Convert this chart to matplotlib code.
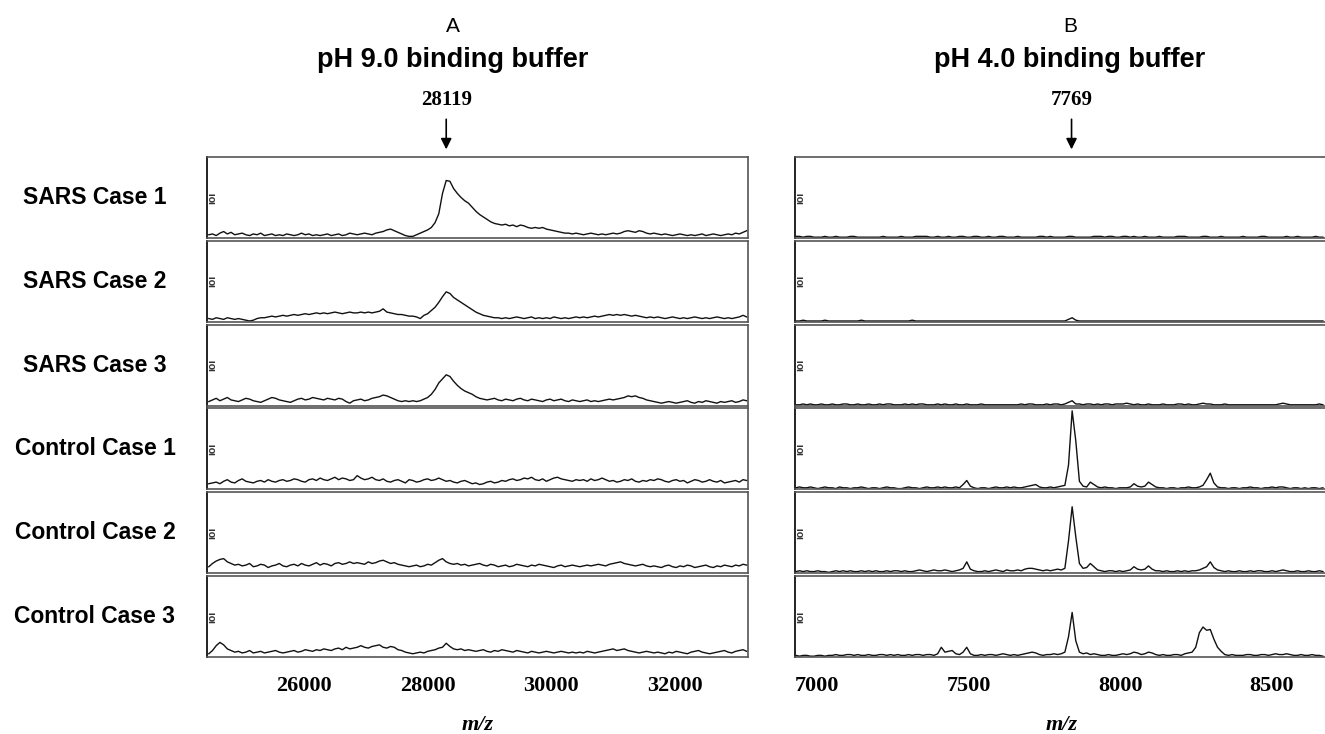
import numpy as np
import matplotlib
matplotlib.use("Agg")
import matplotlib.pyplot as plt

# row labels
cases = ["SARS Case 1", "SARS Case 2", "SARS Case 3",
         "Control Case 1", "Control Case 2", "Control Case 3"]

# panel A: pH 9.0, m/z sampled from 24460 every 60
a_start, a_step = 24460, 60
a_ticks = [26000, 28000, 30000, 32000]
a_peak = 28300
a_peak_label = "28119"

a_sars1 = [4,5,3,6,8,5,7,4,5,6,4,3,5,4,6,3,4,5,3,4,
           3,5,4,3,4,6,4,5,3,4,3,4,5,3,4,5,3,4,6,5,
           4,5,6,5,4,6,7,8,10,11,9,7,5,3,2,2,4,6,8,10,
           13,19,30,55,71,70,61,55,50,46,43,38,33,29,26,23,20,18,17,16,
           17,15,16,14,16,15,13,12,13,12,13,11,10,9,8,7,6,6,5,6,
           5,4,5,6,5,4,5,4,5,6,5,6,8,9,8,7,9,8,6,5,
           6,5,4,5,4,3,4,5,4,3,4,3,4,5,3,4,5,4,3,4,
           5,4,6,5,7,9]
a_sars2 = [4,3,5,4,3,5,4,3,4,3,2,1,2,4,5,5,6,7,6,7,
           8,7,8,9,8,9,10,9,10,11,10,11,10,11,12,11,10,11,12,11,
           11,12,11,12,11,12,13,16,12,11,10,9,9,8,7,7,6,4,8,10,
           14,18,24,31,37,35,30,27,24,21,18,15,12,10,8,7,6,5,5,4,
           5,4,5,6,5,4,5,6,4,5,4,5,4,6,5,4,5,4,5,6,
           5,6,5,6,7,6,7,8,9,8,9,8,9,8,7,8,7,6,5,6,
           5,6,5,4,5,6,5,4,5,4,5,6,5,4,5,4,5,6,5,4,
           5,4,5,6,8,6]
a_sars3 = [5,7,9,6,8,10,7,6,5,7,9,8,6,5,4,6,8,10,9,7,
           6,5,4,6,8,9,7,8,10,9,8,7,9,8,7,9,8,5,3,6,
           7,8,6,7,9,10,11,13,12,10,8,6,5,6,5,6,5,6,8,10,
           14,20,28,33,38,36,30,25,21,18,16,14,11,9,8,7,8,9,7,6,
           8,7,6,8,9,7,6,8,7,6,5,7,8,6,7,8,6,5,7,6,
           5,6,7,5,6,5,6,7,8,7,8,9,10,12,11,12,10,9,7,6,
           5,4,3,4,5,4,3,4,5,6,4,3,5,4,6,5,4,3,5,4,
           5,6,4,5,7,6]
a_ctrl1 = [7,8,9,7,10,12,9,8,11,13,10,9,8,10,11,9,12,10,9,11,
           12,10,11,13,12,10,9,12,13,11,14,12,11,13,15,12,14,13,11,12,
           17,14,12,13,15,12,11,13,10,9,11,12,10,8,12,11,9,10,12,13,
           11,12,14,12,10,11,9,8,10,11,9,7,8,6,7,9,10,8,9,11,
           10,12,13,11,12,14,13,15,12,11,13,10,12,14,15,13,12,11,10,12,
           11,12,10,13,11,12,14,12,10,11,9,10,12,11,13,10,9,11,10,12,
           11,13,12,10,9,11,12,10,11,8,10,12,11,9,10,12,10,9,11,8,
           9,10,11,9,12,11]
a_ctrl2 = [8,12,15,17,18,14,12,10,11,9,10,12,8,9,11,10,7,9,10,12,
           9,8,10,11,9,12,10,9,11,13,10,12,11,9,12,13,11,12,14,12,
           13,12,11,14,12,13,15,16,14,12,13,11,10,9,8,9,10,8,9,11,
           10,13,16,18,14,12,11,12,10,11,9,10,11,12,10,9,11,10,8,9,
           10,8,9,11,10,9,8,10,9,11,10,9,8,7,9,10,8,9,10,9,
           8,9,10,9,10,11,10,9,11,12,13,14,12,11,10,9,10,11,9,8,
           9,8,7,9,10,8,7,9,8,10,9,7,8,9,10,8,7,9,8,10,
           9,8,10,9,11,10]
a_ctrl3 = [4,8,14,18,15,10,8,6,7,5,6,8,5,6,7,5,6,7,8,6,
           5,6,7,8,6,7,9,8,7,9,8,10,9,8,10,11,9,12,10,11,
           12,14,12,11,13,14,15,12,11,13,12,9,8,6,5,4,5,6,5,7,
           8,9,11,12,17,13,10,9,10,8,9,8,7,8,9,7,6,8,7,9,
           8,7,6,8,7,6,5,7,6,5,6,7,6,5,6,7,6,5,6,5,
           6,5,7,6,5,6,7,8,9,10,8,9,10,8,7,6,5,6,7,6,
           5,6,5,4,6,5,7,6,5,4,6,7,8,6,5,4,5,6,7,8,
           6,5,7,8,9,7]

# panel B: pH 4.0, m/z sampled from 6930 every 12
b_start, b_step = 6930, 12
b_ticks = [7000, 7500, 8000, 8500]
b_peak = 7840
b_peak_label = "7769"

b_sars1 = [2,2,1,2,2,1,1,1,2,1,1,2,1,1,1,2,2,1,1,1,
           1,1,1,1,2,1,1,1,1,2,1,1,1,2,2,2,2,1,1,2,
           1,1,2,1,1,2,2,1,1,2,2,1,1,2,1,1,2,2,1,1,
           1,2,1,1,1,1,1,2,2,1,2,1,1,1,1,2,2,1,1,1,
           1,1,2,2,2,1,2,2,1,1,2,2,1,2,1,1,2,1,1,1,
           2,1,1,1,1,2,2,2,1,1,1,1,2,2,1,1,1,2,1,1,
           1,1,1,2,1,1,1,1,2,2,1,1,1,1,1,2,1,1,2,1,
           1,1,1,2,1,1]
b_sars2 = [1,1,2,1,1,1,1,1,2,1,1,1,1,1,1,1,1,1,2,1,
           1,1,1,1,1,1,1,1,1,1,1,1,2,1,1,1,1,1,1,1,
           1,1,1,1,1,1,1,1,1,1,1,1,1,1,1,1,1,1,1,1,
           1,1,1,1,1,1,1,1,1,1,1,1,1,1,1,3,5,2,1,1,
           1,1,1,1,1,1,1,1,1,1,1,1,1,1,1,1,1,1,1,1,
           1,1,1,1,1,1,1,1,1,1,1,1,1,1,1,1,1,1,1,1,
           1,1,1,1,1,1,1,1,1,1,1,1,1,1,1,1,1,1,1,1,
           1,1,1,1,1,1]
b_sars3 = [1,1,2,1,2,1,1,2,1,1,2,1,1,2,2,1,1,2,1,1,
           2,1,1,2,1,2,2,1,1,1,2,1,2,1,2,2,1,1,1,2,
           1,2,1,1,2,1,1,2,1,1,1,2,1,1,1,1,1,1,1,1,
           1,1,2,1,2,2,1,1,1,2,1,2,2,1,2,4,6,2,2,1,
           2,2,1,2,1,2,2,1,2,2,2,3,2,1,2,1,1,2,1,1,
           1,2,1,1,1,2,2,1,2,1,1,2,3,2,2,1,1,1,2,1,
           1,1,1,1,1,1,1,1,1,1,1,1,1,2,3,2,1,1,1,1,
           1,1,1,1,2,1]
b_ctrl1 = [2,3,2,2,3,2,1,2,3,2,2,1,3,2,2,1,2,2,3,2,
           1,2,2,1,2,3,2,2,1,1,2,3,2,2,1,2,3,2,2,3,
           2,3,2,2,3,2,6,11,4,2,1,2,2,1,2,3,2,2,3,2,
           3,2,2,3,4,5,6,3,2,2,3,2,3,4,5,30,97,60,10,4,
           3,9,6,3,2,3,2,2,1,2,2,2,3,7,4,3,4,9,6,3,
           2,2,1,2,2,1,2,2,3,2,2,3,5,12,20,8,3,2,2,1,
           2,2,1,2,2,3,2,2,1,2,2,3,2,3,3,2,1,2,2,1,
           2,1,2,2,1,2]
b_ctrl2 = [2,3,2,3,2,2,3,2,2,1,2,3,2,3,2,3,2,2,3,2,
           3,2,3,2,2,3,2,3,3,2,3,2,2,3,4,3,2,3,4,3,
           3,4,3,2,3,4,6,14,5,3,2,2,3,2,3,4,3,2,4,3,
           3,4,3,5,6,6,5,4,3,4,3,4,5,4,6,40,82,45,12,6,
           7,12,8,4,3,2,3,3,2,3,2,3,4,8,5,4,5,9,5,3,
           3,2,3,2,2,3,2,3,2,3,3,4,6,8,14,7,4,3,2,3,
           2,2,3,2,2,3,2,3,3,2,2,3,2,3,4,3,2,2,3,2,
           2,3,2,2,3,2]
b_ctrl3 = [2,1,2,2,1,1,2,2,1,2,2,3,2,2,3,3,2,3,2,2,
           3,2,2,3,3,2,3,2,3,2,2,3,2,3,3,2,3,3,2,4,
           12,6,7,8,4,3,6,12,4,2,2,3,2,3,3,2,3,4,3,2,
           3,2,3,4,5,6,5,3,2,3,3,4,3,4,6,25,55,20,6,4,
           5,3,4,3,2,2,3,2,2,3,4,3,4,6,5,3,4,6,5,3,
           2,3,2,2,3,3,2,4,5,6,12,30,37,33,34,22,12,7,3,2,
           3,2,2,2,3,3,2,2,3,3,2,3,4,3,3,4,3,2,2,3,
           2,2,3,2,2,1]

a_traces = [a_sars1, a_sars2, a_sars3, a_ctrl1, a_ctrl2, a_ctrl3]
b_traces = [b_sars1, b_sars2, b_sars3, b_ctrl1, b_ctrl2, b_ctrl3]

W, H = 1325, 734
fig = plt.figure(figsize=(W / 100, H / 100), dpi=100)
fig.patch.set_facecolor("white")

sans = "Liberation Sans"
serif = "Liberation Serif"

row_top, row_pitch, row_h = 157, 83.8, 81
cols = [
    dict(x0=207, x1=748, xlim=(24431, 33181), start=a_start, step=a_step,
         traces=a_traces, ticks=a_ticks, peak=a_peak, plabel=a_peak_label,
         letter="A", title="pH 9.0 binding buffer", tx=453),
    dict(x0=795, x1=1329, xlim=(6927, 8690), start=b_start, step=b_step,
         traces=b_traces, ticks=b_ticks, peak=b_peak, plabel=b_peak_label,
         letter="B", title="pH 4.0 binding buffer", tx=1070),
]

for c in cols:
    for r in range(6):
        top = row_top + r * row_pitch
        ax = fig.add_axes([c["x0"] / W, 1 - (top + row_h) / H,
                           (c["x1"] - c["x0"]) / W, row_h / H])
        vals = c["traces"][r]
        mz = c["start"] + c["step"] * np.arange(len(vals))
        ax.plot(mz, vals, color="#111111", lw=1.0)
        ax.set_xlim(*c["xlim"])
        ax.set_ylim(0, 100)
        ax.set_yticks([])
        ax.tick_params(axis="x", length=0)
        for s in ax.spines.values():
            s.set_color("#555555")
            s.set_linewidth(1.2)
        ax.spines["left"].set_color("#222222")
        ax.spines["left"].set_linewidth(1.4)
        ax.text(0.009, 0.5, "ioi", transform=ax.transAxes, rotation=90,
                fontsize=7.5, fontweight="bold", ha="center", va="center",
                family=sans, color="#333333")
        if r < 5:
            ax.set_xticks([])
        else:
            ax.set_xticks(c["ticks"])
            ax.set_xticklabels([str(t) for t in c["ticks"]], fontsize=16,
                               fontweight="bold", family=serif)
            ax.tick_params(axis="x", pad=14)
            ax.set_xlabel("m/z", fontsize=16, fontweight="bold",
                          style="italic", family=serif, labelpad=13)
        if r == 0:
            ax.annotate("", xy=(c["peak"], 1.06), xycoords=("data", "axes fraction"),
                        xytext=(c["peak"], 1.5), textcoords=("data", "axes fraction"),
                        arrowprops=dict(arrowstyle="-|>", color="black", lw=1.2,
                                        mutation_scale=16))
            ax.text(c["peak"], 1.7, c["plabel"], transform=ax.get_xaxis_transform(),
                    ha="center", va="center", fontsize=15, fontweight="bold",
                    family=serif)
        if c["letter"] == "A":
            fig.text(95 / W, 1 - (top + row_h / 2) / H, cases[r], ha="center",
                     va="center", fontsize=16.5, fontweight="bold", family=sans)

    fig.text(c["tx"] / W, 1 - 27 / H, c["letter"], ha="center", va="center",
             fontsize=15, family=sans)
    fig.text(c["tx"] / W, 1 - 60 / H, c["title"], ha="center", va="center",
             fontsize=19.5, fontweight="bold", family=sans)

fig.savefig("out.png", dpi=100, facecolor="white")
